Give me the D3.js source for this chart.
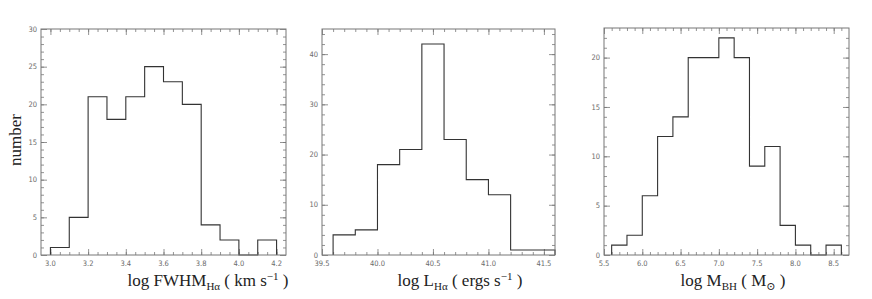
<!DOCTYPE html>
<html><head><meta charset="utf-8">
<script src="https://cdn.jsdelivr.net/npm/d3@7/dist/d3.min.js"></script>
<style>
body{margin:0;background:#fff;}
svg{display:block;}
.tl{font-family:"DejaVu Sans Condensed","DejaVu Sans",sans-serif;font-size:7.5px;fill:#6a6a6a;}
.ttl{font-family:"Liberation Serif","DejaVu Serif",serif;fill:#222;}
</style>
</head><body>
<svg id="c" width="872" height="299"></svg>
<script>
// ---- data ----
const fwhmBinLeft = [3.0,3.1,3.2,3.3,3.4,3.5,3.6,3.7,3.8,3.9,4.0,4.1];
const fwhmCounts  = [1,5,21,18,21,25,23,20,4,2,0,2];
const fwhmXTicks  = [3.0,3.2,3.4,3.6,3.8,4.0,4.2];
const fwhmYTicks  = [0,5,10,15,20,25,30];

const lumBinLeft  = [39.6,39.8,40.0,40.2,40.4,40.6,40.8,41.0,41.2,41.4];
const lumCounts   = [4,5,18,21,42,23,15,12,1,1];
const lumXTicks   = [39.5,40.0,40.5,41.0,41.5];
const lumYTicks   = [0,10,20,30,40];

const mbhBinLeft  = [5.6,5.8,6.0,6.2,6.4,6.6,6.8,7.0,7.2,7.4,7.6,7.8,8.0,8.2,8.4];
const mbhCounts   = [1,2,6,12,14,20,20,22,20,9,11,3,1,0,1];
const mbhXTicks   = [5.5,6.0,6.5,7.0,7.5,8.0,8.5];
const mbhYTicks   = [0,5,10,15,20];

// ---- layout ----
const panels = [
  {left:41, right:286, top:29, bottom:255, xd:[2.95,4.25], yd:[0,30], bins:fwhmBinLeft, counts:fwhmCounts, w:0.1,
   xt:fwhmXTicks, yt:fwhmYTicks, xminor:0.05, yminor:1, fmt:d3.format(".1f")},
  {left:322, right:555, top:29, bottom:255, xd:[39.5,41.6], yd:[0,45], bins:lumBinLeft, counts:lumCounts, w:0.2,
   xt:lumXTicks, yt:lumYTicks, xminor:0.1, yminor:2, fmt:d3.format(".1f")},
  {left:604, right:849, top:28, bottom:255, xd:[5.5,8.7], yd:[0,23], bins:mbhBinLeft, counts:mbhCounts, w:0.2,
   xt:mbhXTicks, yt:mbhYTicks, xminor:0.1, yminor:1, fmt:d3.format(".1f")}
];

const svg = d3.select("#c");
const frameCol = "#777", lineCol = "#333";

function range(a,b,s){const r=[];for(let v=a;v<=b+1e-9;v+=s)r.push(+v.toFixed(4));return r;}

panels.forEach(p=>{
  const x = d3.scaleLinear().domain(p.xd).range([p.left,p.right]);
  const y = d3.scaleLinear().domain(p.yd).range([p.bottom,p.top]);
  const g = svg.append("g");
  const xMinor = range(Math.ceil(p.xd[0]/p.xminor)*p.xminor, p.xd[1], p.xminor).filter(v=>v>p.xd[0]+1e-6 && v<p.xd[1]-1e-6);
  const yMinor = range(p.yd[0], p.yd[1], p.yminor).filter(v=>v>p.yd[0] && v<p.yd[1]);
  const mk = (axisFn, scale, vals, size, tr) => {
    const a = g.append("g").attr("transform",tr)
      .call(axisFn(scale).tickValues(vals).tickSize(size).tickFormat(""));
    a.select(".domain").remove();
    a.selectAll("line").attr("stroke",frameCol).attr("stroke-width",0.8);
    return a;
  };
  mk(d3.axisBottom, x, xMinor, -3, `translate(0,${p.bottom})`);
  mk(d3.axisTop, x, xMinor, -3, `translate(0,${p.top})`);
  mk(d3.axisLeft, y, yMinor, -3, `translate(${p.left},0)`);
  mk(d3.axisRight, y, yMinor, -3, `translate(${p.right},0)`);
  mk(d3.axisBottom, x, p.xt, -6, `translate(0,${p.bottom})`);
  mk(d3.axisTop, x, p.xt, -6, `translate(0,${p.top})`);
  mk(d3.axisLeft, y, p.yt, -6, `translate(${p.left},0)`);
  mk(d3.axisRight, y, p.yt, -6, `translate(${p.right},0)`);
  g.selectAll("text.xl").data(p.xt).enter().append("text").attr("class","tl")
    .attr("x",d=>x(d)).attr("y",p.bottom+11).attr("text-anchor","middle").text(d=>p.fmt(d));
  g.selectAll("text.yl").data(p.yt).enter().append("text").attr("class","tl")
    .attr("x",p.left-4).attr("y",d=>y(d)+2.7).attr("text-anchor","end").text(d=>d);
  const pts = [[x(p.bins[0]), y(0)]];
  p.bins.forEach((b,i)=>{ pts.push([x(b), y(p.counts[i])]); pts.push([x(b+p.w), y(p.counts[i])]); });
  pts.push([x(p.bins[p.bins.length-1]+p.w), y(0)]);
  g.append("path").attr("d", d3.line()(pts)).attr("fill","none").attr("stroke",lineCol).attr("stroke-width",1.1);
  g.append("rect").attr("x",p.left).attr("y",p.top).attr("width",p.right-p.left).attr("height",p.bottom-p.top)
    .attr("fill","none").attr("stroke",frameCol).attr("stroke-width",1);
});

// axis titles
const ty = 286;
function title(cx, parts){
  const t = svg.append("text").attr("class","ttl").attr("x",cx).attr("y",ty).attr("text-anchor","middle").attr("font-size",17);
  parts.forEach(([s,kind])=>{
    const ts = t.append("tspan").text(s);
    if(kind==="sub") ts.attr("font-size",11).attr("dy",4);
    else if(kind==="sup") ts.attr("font-size",11).attr("dy",-6);
    else if(kind==="back") ts.attr("dy",6);
    else if(kind==="backsub") ts.attr("dy",-4);
  });
}
title(208, [["log FWHM",""],["Hα","sub"],[" ( km s","backsub"],["−1","sup"],[" )","back"]]);
title(460, [["log L",""],["Hα","sub"],[" ( ergs s","backsub"],["−1","sup"],[" )","back"]]);
title(733, [["log  M",""],["BH","sub"],[" ( M","backsub"],["⊙","sub"],[" )","backsub"]]);

svg.append("text").attr("class","ttl").attr("font-size",17)
  .attr("transform","translate(21,140) rotate(-90)").attr("text-anchor","middle").text("number");
</script>
</body></html>
